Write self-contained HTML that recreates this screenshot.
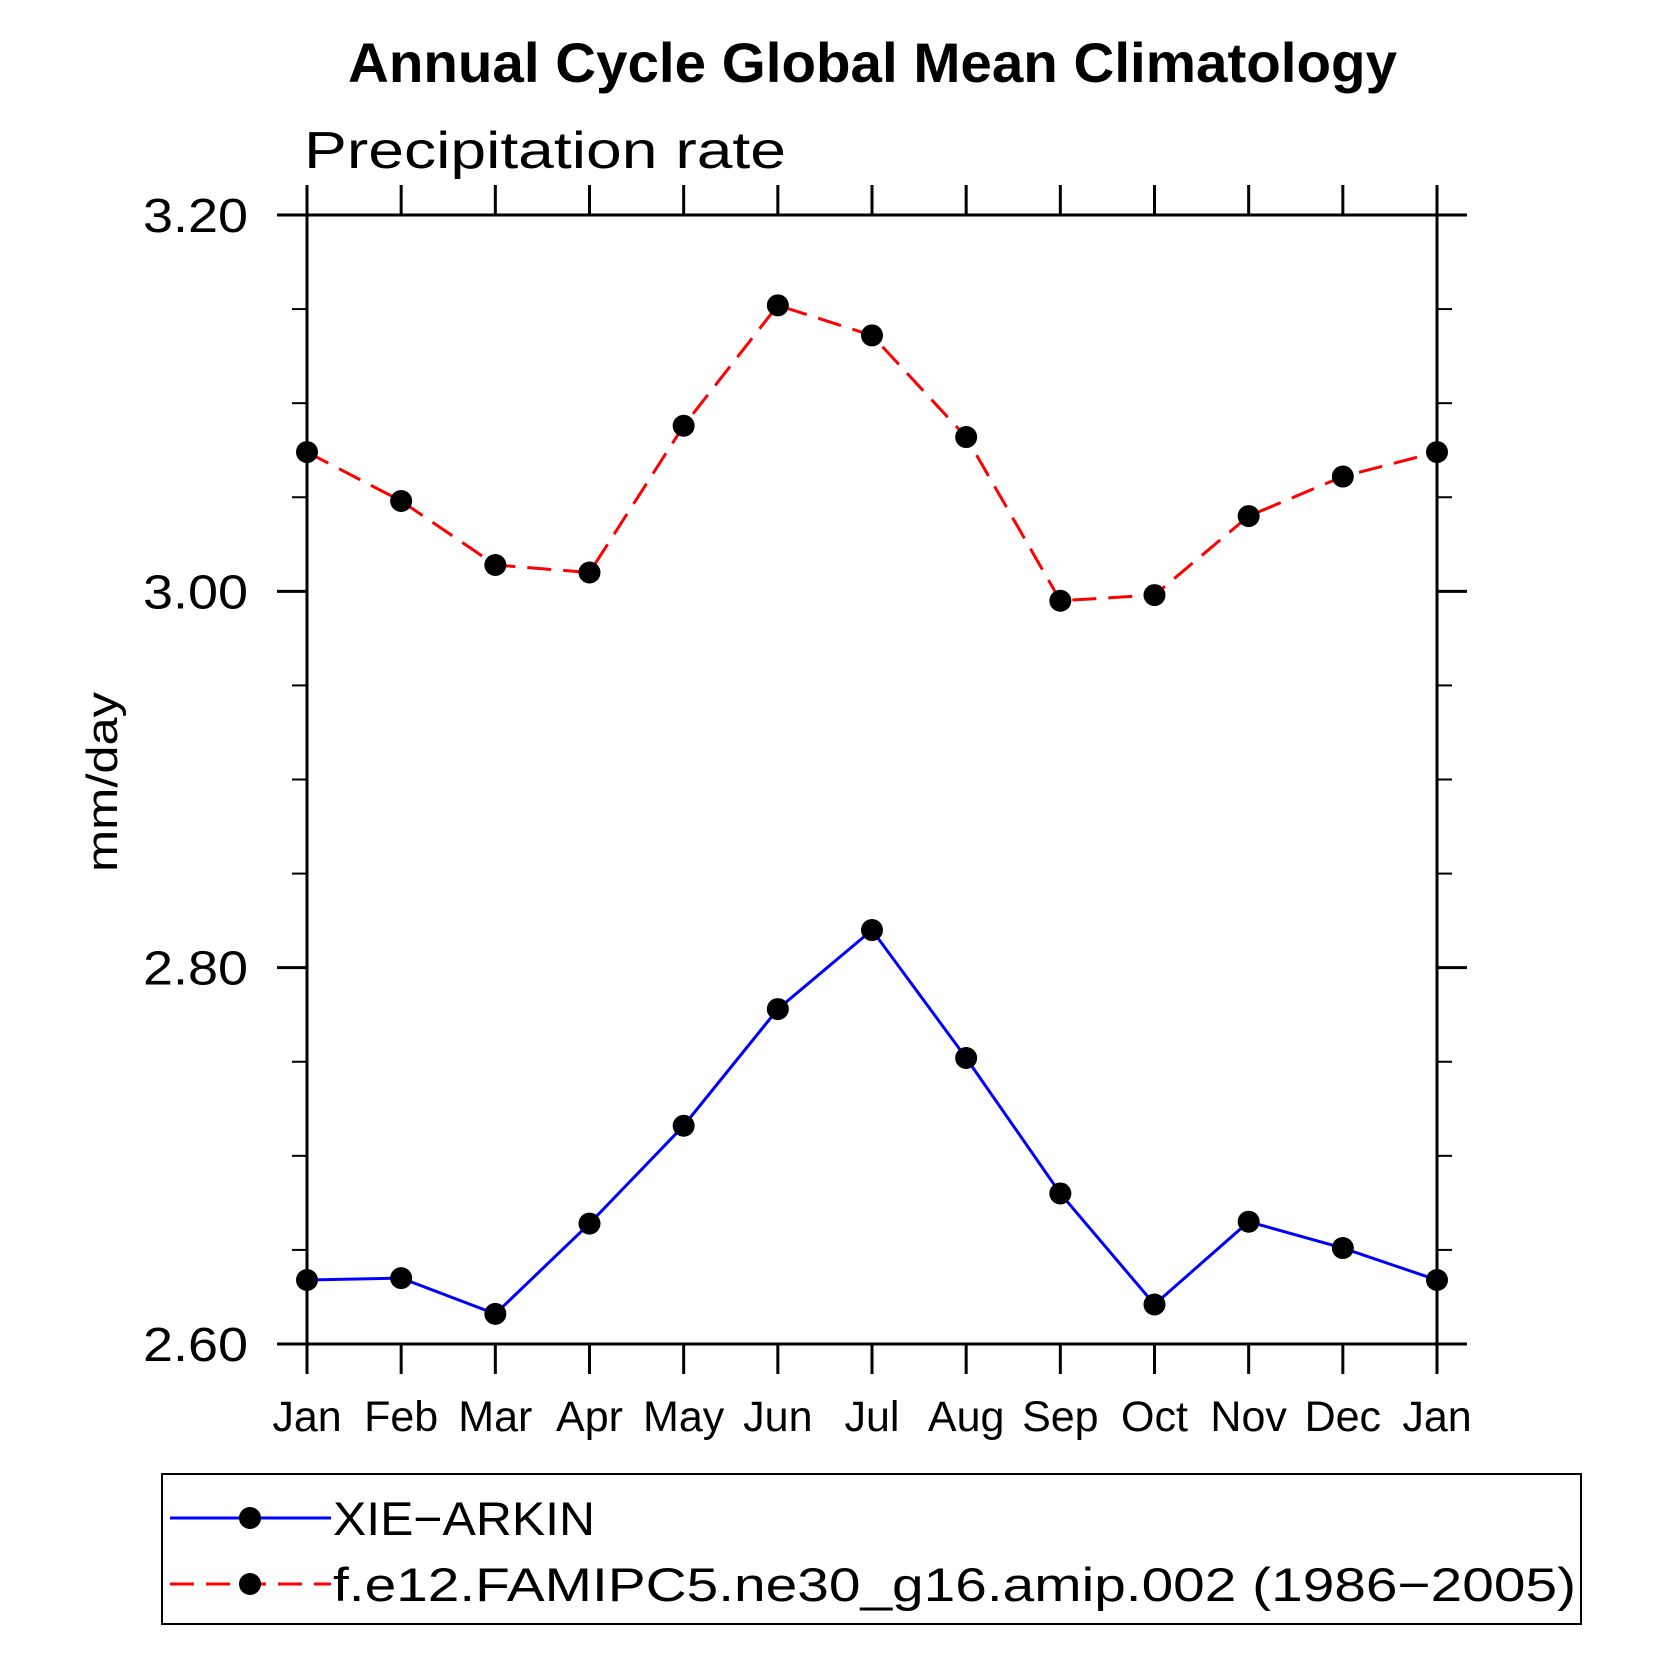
<!DOCTYPE html>
<html><head><meta charset="utf-8"><style>
html,body{margin:0;padding:0;background:#fff;}
svg{display:block;font-family:"Liberation Sans",sans-serif;}
</style></head><body>
<svg id="chart" width="1663" height="1663" viewBox="0 0 1663 1663" xmlns="http://www.w3.org/2000/svg">
<text x="348" y="82" font-size="56" font-weight="bold" textLength="1049" lengthAdjust="spacingAndGlyphs">Annual Cycle Global Mean Climatology</text>
<text x="304" y="168" font-size="52" font-weight="300" textLength="482" lengthAdjust="spacingAndGlyphs">Precipitation rate</text>
<text transform="translate(117,782) rotate(-90)" text-anchor="middle" font-size="44" textLength="180" lengthAdjust="spacingAndGlyphs">mm/day</text>
<g id="axes"></g>
<g id="series"></g>
<g>
<rect x="162" y="1474" width="1419" height="150" fill="none" stroke="#000" stroke-width="2"/>
<g>
<line x1="170" y1="1518" x2="331" y2="1518" stroke="#0000ff" stroke-width="3"/>
<circle cx="250" cy="1518" r="11" fill="#000"/>
<text x="333" y="1535" font-size="47" font-weight="300" textLength="262" lengthAdjust="spacingAndGlyphs">XIE−ARKIN</text>
</g>
<g>
<line x1="170" y1="1584" x2="331" y2="1584" stroke="#ff0000" stroke-width="3" stroke-dasharray="24,12"/>
<circle cx="250" cy="1584" r="11" fill="#000"/>
<text x="333" y="1601" font-size="47" font-weight="300" textLength="1243" lengthAdjust="spacingAndGlyphs">f.e12.FAMIPC5.ne30_g16.amip.002 (1986−2005)</text>
</g>
</g>
</svg>
<script>
const months = ["Jan","Feb","Mar","Apr","May","Jun","Jul","Aug","Sep","Oct","Nov","Dec","Jan"];
const xieArkin = [2.634,2.635,2.616,2.664,2.716,2.778,2.820,2.752,2.680,2.621,2.665,2.651,2.634];
const famip = [3.074,3.048,3.014,3.010,3.088,3.152,3.136,3.082,2.995,2.998,3.040,3.061,3.074];
const yTicks = [2.60,2.80,3.00,3.20];
const yTickLabels = ["2.60","2.80","3.00","3.20"];
const yMinorTicks = [2.65,2.70,2.75,2.85,2.90,2.95,3.05,3.10,3.15];

const L=307,R=1437,T=215,B=1344,yMin=2.6,yMax=3.2;
const NS="http://www.w3.org/2000/svg";
function xs(i){return L+(R-L)*i/(months.length-1);}
function ys(v){return B-(v-yMin)/(yMax-yMin)*(B-T);}
function mk(tag,attrs,parent){const e=document.createElementNS(NS,tag);for(const k in attrs)e.setAttribute(k,attrs[k]);parent.appendChild(e);return e;}
const axes=document.getElementById('axes');
const frame=mk('rect',{x:L,y:T,width:R-L,height:B-T,fill:'none',stroke:'#000','stroke-width':3},axes);


months.forEach((m,i)=>{
  const x=xs(i);
  const tb=mk('line',{x1:x,y1:B,x2:x,y2:B+30,stroke:'#000','stroke-width':3},axes);
  
  
  const tt=mk('line',{x1:x,y1:T,x2:x,y2:T-30,stroke:'#000','stroke-width':3},axes);
  
  
  const lb=mk('text',{x:x,y:1431,'text-anchor':'middle','font-size':43,'font-weight':300},axes);
  lb.textContent=m;
  
  
});
yTicks.forEach((v,i)=>{
  const y=ys(v);
  const a=mk('line',{x1:L-30,y1:y,x2:L,y2:y,stroke:'#000','stroke-width':3},axes);
  
  
  const b=mk('line',{x1:R,y1:y,x2:R+30,y2:y,stroke:'#000','stroke-width':3},axes);
  
  
  const t=mk('text',{x:248,y:y+17,'text-anchor':'end','font-size':48,'font-weight':300,textLength:105,lengthAdjust:'spacingAndGlyphs'},axes);
  t.textContent=yTickLabels[i];
  
  
});
yMinorTicks.forEach(v=>{
  const y=ys(v);
  const a=mk('line',{x1:L-15,y1:y,x2:L,y2:y,stroke:'#000','stroke-width':2},axes);
  
  
  const b=mk('line',{x1:R,y1:y,x2:R+15,y2:y,stroke:'#000','stroke-width':2},axes);
  
  
});
const series=document.getElementById('series');
function drawSeries(vals,color,dash,name){
  const pts=vals.map((v,i)=>xs(i)+','+ys(v)).join(' ');
  const pl=mk('polyline',{points:pts,fill:'none',stroke:color,'stroke-width':3,'stroke-dasharray':dash},series);
  
  
  vals.forEach((v,i)=>{
    const c=mk('circle',{cx:xs(i),cy:ys(v),r:11,fill:'#000'},series);
    
    
  });
}
drawSeries(famip,'#ff0000','24,12','famip');
drawSeries(xieArkin,'#0000ff','none','xie-arkin');
</script>
</body></html>
